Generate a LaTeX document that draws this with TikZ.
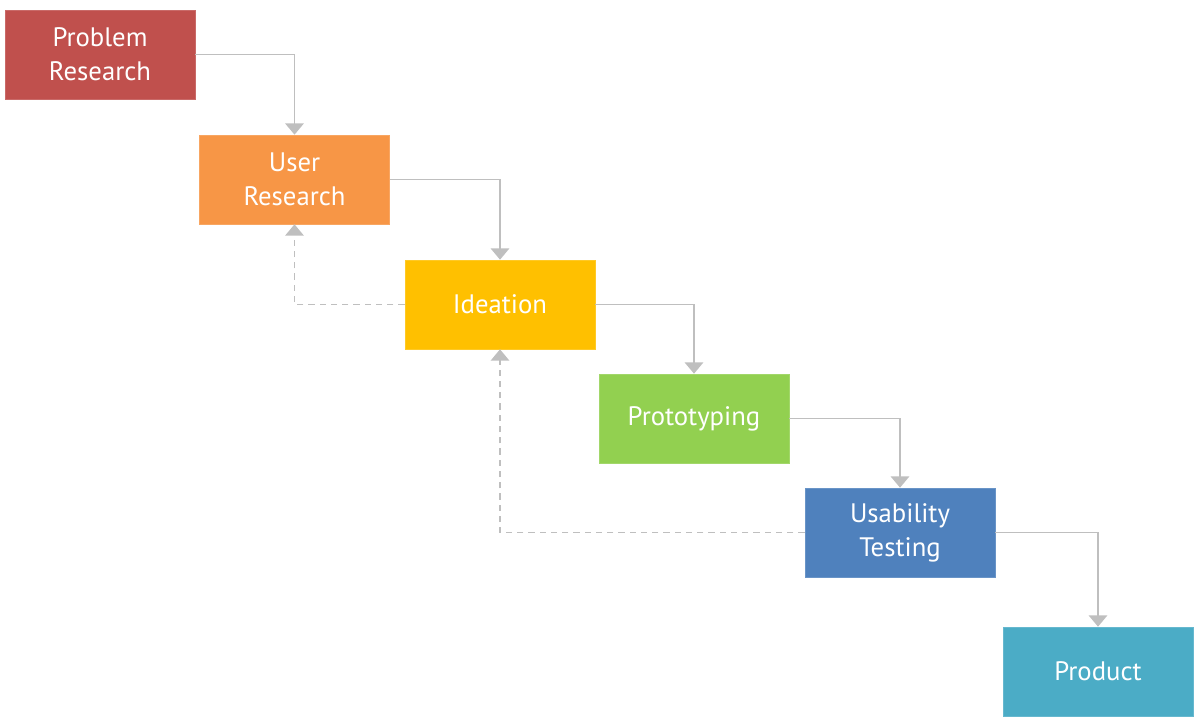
\documentclass[tikz,border=0pt]{standalone}
\usepackage{fontspec}
\setmainfont{PT Sans}
\usetikzlibrary{arrows.meta}
\definecolor{cred}{HTML}{C0504D}
\definecolor{corange}{HTML}{F79646}
\definecolor{cyellow}{HTML}{FFC000}
\definecolor{cgreen}{HTML}{92D050}
\definecolor{cblue}{HTML}{4F81BD}
\definecolor{cteal}{HTML}{4BACC6}
\definecolor{cline}{HTML}{BFBFBF}
\tikzset{
  stage/.style={draw=#1!85!white, fill=#1, text=white, minimum width=4.75cm,
    minimum height=2.225cm, inner sep=0pt, align=center,
    font=\fontsize{19}{24}\selectfont},
  flow/.style={draw=cline, line width=1.4pt,
    -{Triangle[width=13pt,length=8pt]}},
  back/.style={flow, dash pattern=on 4.5pt off 3.5pt, line width=1.2pt}
}
\begin{document}
\begin{tikzpicture}[x=0.025cm,y=-0.025cm]
  \useasboundingbox (0,0) rectangle (1200,725);
  % stages
  \node[stage=cred]    (pr) at (100,54.5)   {Problem\\Research};
  \node[stage=corange] (ur) at (294.5,179.5) {User\\Research};
  \node[stage=cyellow] (id) at (500,304.5)  {Ideation};
  \node[stage=cgreen]  (pt) at (694,418.5)  {Prototyping};
  \node[stage=cblue]   (ut) at (900,532.5)  {Usability\\Testing};
  \node[stage=cteal]   (pd) at (1098,671.5) {Product};
  % forward steps
  \draw[flow] (pr.east) -| (ur.north);
  \draw[flow] (ur.east) -| (id.north);
  \draw[flow] (id.east) -| (pt.north);
  \draw[flow] (pt.east) -| (ut.north);
  \draw[flow] (ut.east) -| (pd.north);
  % iterations
  \draw[back] (id.west) -| (ur.south);
  \draw[back] (ut.west) -| (id.south);
\end{tikzpicture}
\end{document}
